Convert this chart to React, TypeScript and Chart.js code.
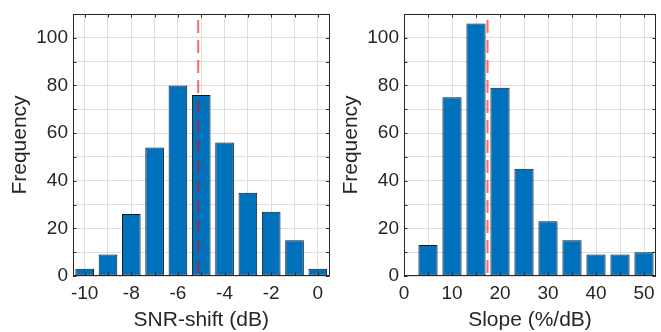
import React, { useEffect, useRef } from 'react';
import { Chart, registerables } from 'chart.js';

Chart.register(...registerables);

// ---- data ----
const snrShiftBins = [-10, -9, -8, -7, -6, -5, -4, -3, -2, -1, 0];
const snrShiftCounts = [3, 9, 26, 54, 80, 76, 56, 35, 27, 15, 3];
const snrShiftMean = -5.13;

const slopeBins = [5, 10, 15, 20, 25, 30, 35, 40, 45, 50];
const slopeCounts = [13, 75, 106, 79, 45, 23, 15, 9, 9, 10];
const slopeMean = 17.4;

// tick positions (grid) and the subset that carries a label
const freqTicks = [0, 10, 20, 30, 40, 50, 60, 70, 80, 90, 100, 110];
const freqTickLabels = [0, 20, 40, 60, 80, 100];
const snrTicks = [-10, -9, -8, -7, -6, -5, -4, -3, -2, -1, 0];
const snrTickLabels = [-10, -8, -6, -4, -2, 0];
const slopeTicks = [0, 5, 10, 15, 20, 25, 30, 35, 40, 45, 50];
const slopeTickLabels = [0, 10, 20, 30, 40, 50];

const FONT = "'Liberation Sans', Arial, Helvetica, sans-serif";
const TEXT = '#262626';

const boxPlugin = {
  id: 'matlabBox',
  afterDatasetsDraw(chart: any) {
    const { ctx, chartArea } = chart;
    const { left, right, top, bottom } = chartArea;
    const xs = chart.scales.x;
    const ys = chart.scales.y;
    const tl = 3.5;
    ctx.save();
    ctx.strokeStyle = TEXT;
    ctx.lineWidth = 1;
    ctx.beginPath();
    for (const t of xs.ticks) {
      const p = Math.round(xs.getPixelForValue(t.value)) + 0.5;
      ctx.moveTo(p, bottom);
      ctx.lineTo(p, bottom - tl);
      ctx.moveTo(p, top);
      ctx.lineTo(p, top + tl);
    }
    for (const t of ys.ticks) {
      const p = Math.round(ys.getPixelForValue(t.value)) + 0.5;
      ctx.moveTo(left, p);
      ctx.lineTo(left + tl, p);
      ctx.moveTo(right, p);
      ctx.lineTo(right - tl, p);
    }
    ctx.stroke();
    ctx.strokeRect(Math.round(left) + 0.5, Math.round(top) + 0.5, Math.round(right - left) - 1, Math.round(bottom - top) - 1);
    ctx.restore();
  },
};

type PanelProps = {
  bins: number[];
  counts: number[];
  mean: number;
  xMin: number;
  xMax: number;
  xTicks: number[];
  xLabels: number[];
  xTitle: string;
  width: number;
  padRight: number;
};

function Panel({ bins, counts, mean, xMin, xMax, xTicks, xLabels, xTitle, width, padRight }: PanelProps) {
  const ref = useRef<HTMLCanvasElement>(null);
  useEffect(() => {
    const chart = new Chart(ref.current as HTMLCanvasElement, {
      type: 'bar',
      data: {
        datasets: [
          {
            type: 'line',
            data: [
              { x: mean, y: 110 },
              { x: mean, y: 0 },
            ],
            borderColor: 'rgba(255,0,0,0.6)',
            borderWidth: 2,
            borderDash: [13, 7],
            borderDashOffset: 14,
            pointRadius: 0,
            fill: false,
            tension: 0,
            order: 0,
          } as any,
          {
            type: 'bar',
            data: bins.map((x, i) => ({ x, y: counts[i] })),
            backgroundColor: '#0072BD',
            borderColor: '#141414',
            borderWidth: 1,
            borderSkipped: false,
            barPercentage: 0.8,
            categoryPercentage: 1,
            order: 1,
          } as any,
        ],
      },
      options: {
        responsive: false,
        animation: false,
        devicePixelRatio: 1,
        layout: { padding: { left: 0, right: padRight, top: 14, bottom: 0 } },
        plugins: {
          legend: { display: false },
          tooltip: { enabled: false },
        },
        scales: {
          x: {
            type: 'linear',
            min: xMin,
            max: xMax,
            offset: false,
            grid: { color: '#dedede', lineWidth: 1, drawTicks: false, offset: false },
            border: { display: false },
            ticks: {
              autoSkip: false,
              maxRotation: 0,
              padding: 8,
              color: TEXT,
              font: { family: FONT, size: 19, lineHeight: 1 },
              callback: (v: any) => (xLabels.includes(Number(v)) ? String(v) : ''),
            },
            afterBuildTicks: (s: any) => {
              s.ticks = xTicks.map((value) => ({ value }));
            },
            title: {
              display: true,
              text: xTitle,
              color: TEXT,
              font: { family: FONT, size: 21, lineHeight: 1 },
              padding: { top: 0, bottom: 1 },
            },
            afterFit: (s: any) => {
              s.height = 56;
              s.paddingLeft = 0;
              s.paddingRight = 0;
            },
          } as any,
          y: {
            type: 'linear',
            min: 0,
            max: 110,
            grid: { color: '#dedede', lineWidth: 1, drawTicks: false },
            border: { display: false },
            ticks: {
              autoSkip: false,
              padding: 5,
              color: TEXT,
              font: { family: FONT, size: 19, lineHeight: 1 },
              callback: (v: any) => (freqTickLabels.includes(Number(v)) ? String(v) : ''),
            },
            afterBuildTicks: (s: any) => {
              s.ticks = freqTicks.map((value) => ({ value }));
            },
            title: {
              display: true,
              text: 'Frequency',
              color: TEXT,
              font: { family: FONT, size: 21, lineHeight: 1 },
              padding: { top: 9.5, bottom: 0 },
            },
            afterFit: (s: any) => {
              s.width = 73;
              s.paddingTop = 0;
              s.paddingBottom = 0;
            },
          } as any,
        },
      },
      plugins: [boxPlugin],
    });
    return () => chart.destroy();
  }, []);
  return <canvas ref={ref} width={width} height={332} style={{ display: 'block', width, height: 332 }} />;
}

export default function App() {
  return (
    <div style={{ position: 'absolute', left: 0, top: 0, width: 661, height: 332, display: 'flex', background: '#fff' }}>
      <Panel
        bins={snrShiftBins}
        counts={snrShiftCounts}
        mean={snrShiftMean}
        xMin={-10.5}
        xMax={0.5}
        xTicks={snrTicks}
        xLabels={snrTickLabels}
        xTitle="SNR-shift (dB)"
        width={331}
        padRight={1.5}
      />
      <Panel
        bins={slopeBins}
        counts={slopeCounts}
        mean={slopeMean}
        xMin={0}
        xMax={52.5}
        xTicks={slopeTicks}
        xLabels={slopeTickLabels}
        xTitle="Slope (%/dB)"
        width={330}
        padRight={5}
      />
    </div>
  );
}
